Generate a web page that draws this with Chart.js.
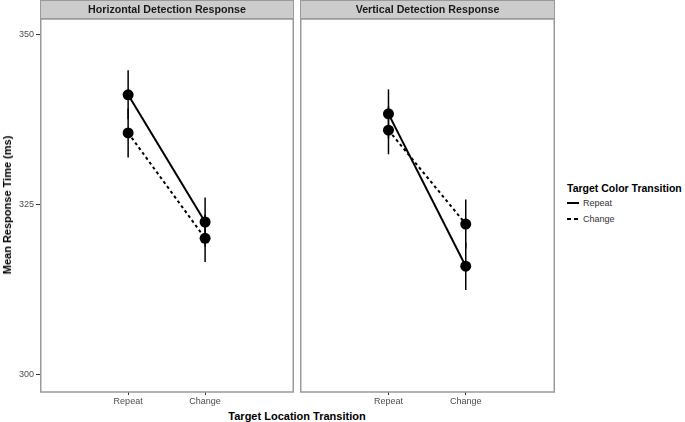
<!DOCTYPE html>
<html>
<head>
<meta charset="utf-8">
<script src="https://cdn.jsdelivr.net/npm/chart.js@4.4.1/dist/chart.umd.min.js"></script>
<style>
  body { margin: 0; background: #fff; font-family: 'Liberation Sans', Arial, sans-serif; }
  #wrap { position: relative; width: 685px; height: 422px; }
  canvas { position: absolute; }
  .lbl { position: absolute; white-space: nowrap; color: #000; }
  .bold { font-weight: bold; }
</style>
</head>
<body>
<div id="wrap">
  <canvas id="c1" width="297" height="410" style="left:0;top:0;width:297px;height:410px"></canvas>
  <canvas id="c2" width="264" height="410" style="left:295px;top:0;width:264px;height:410px"></canvas>

  <div class="lbl bold" id="ytitle" style="left:7px;top:205px;font-size:11px;transform:translate(-50%,-50%) rotate(-90deg)">Mean Response Time (ms)</div>
  <div class="lbl bold" style="left:297px;top:416px;font-size:11px;transform:translate(-50%,-50%)">Target Location Transition</div>

  <div class="lbl bold" style="left:567px;top:188px;font-size:10.5px;transform:translateY(-50%)">Target Color Transition</div>
  <svg style="position:absolute;left:566px;top:196px" width="16" height="30">
    <line x1="1" y1="7" x2="13" y2="7" stroke="#000" stroke-width="2"/>
    <line x1="1" y1="23" x2="13" y2="23" stroke="#000" stroke-width="2" stroke-dasharray="4,3"/>
  </svg>
  <div class="lbl" style="left:583px;top:203px;font-size:9px;color:#333;transform:translateY(-50%)">Repeat</div>
  <div class="lbl" style="left:583px;top:219px;font-size:9px;color:#333;transform:translateY(-50%)">Change</div>
</div>

<script>
// categories and values
const locationLabels = ['Repeat', 'Change'];
const panelTitles = ['Horizontal Detection Response', 'Vertical Detection Response'];
const colorSeries = ['Repeat', 'Change'];

// Horizontal panel
const horizRepeat = [341.2, 322.5];
const horizChange = [335.6, 320.1];
const horizRepeatSE = [3.6, 3.6];
const horizChangeSE = [3.6, 3.5];

// Vertical panel
const vertRepeat = [338.4, 316.0];
const vertChange = [336.0, 322.2];
const vertRepeatSE = [3.6, 3.5];
const vertChangeSE = [3.55, 3.6];

const yTicks = [300, 325, 350];

const BORDER = '#9a9a9a';
const STRIP = '#cccccc';

// error bars + panel frame + strip
const facetPlugin = {
  id: 'facet',
  beforeDraw(chart) {
    const { ctx, chartArea: a } = chart;
    ctx.save();
    ctx.fillStyle = STRIP;
    ctx.fillRect(a.left, 0, a.right - a.left, a.top);
    ctx.strokeStyle = BORDER;
    ctx.lineWidth = 1;
    ctx.strokeRect(a.left + 0.5, 0.5, a.right - a.left - 1, a.top - 1);
    ctx.fillStyle = '#1a1a1a';
    ctx.font = 'bold 10.7px "Liberation Sans", Arial, sans-serif';
    ctx.textAlign = 'center';
    ctx.textBaseline = 'middle';
    ctx.fillText(chart.options.plugins.facet.title, (a.left + a.right) / 2, a.top / 2 + 0.5);
    ctx.restore();
  },
  afterDatasetsDraw(chart) {
    const { ctx, chartArea: a, scales } = chart;
    ctx.save();
    ctx.strokeStyle = '#000';
    ctx.lineWidth = 1.5;
    chart.data.datasets.forEach(ds => {
      ds.data.forEach((p, i) => {
        const x = scales.x.getPixelForValue(p.x);
        const y1 = scales.y.getPixelForValue(p.y - ds.se[i]);
        const y2 = scales.y.getPixelForValue(p.y + ds.se[i]);
        ctx.beginPath();
        ctx.moveTo(x, y1);
        ctx.lineTo(x, y2);
        ctx.stroke();
      });
    });
    ctx.strokeStyle = BORDER;
    ctx.lineWidth = 1.5;
    ctx.strokeRect(a.left + 0.75, a.top, a.right - a.left - 1.5, a.bottom - a.top);
    ctx.restore();
  }
};

function makeData(rep, chg, repSE, chgSE) {
  return {
    datasets: [
      {
        label: colorSeries[0],
        data: rep.map((v, i) => ({ x: i + 1, y: v })),
        se: repSE,
        borderColor: '#000',
        backgroundColor: '#000',
        borderWidth: 2,
        pointRadius: 5.5,
        pointBorderWidth: 0
      },
      {
        label: colorSeries[1],
        data: chg.map((v, i) => ({ x: i + 1, y: v })),
        se: chgSE,
        borderColor: '#000',
        backgroundColor: '#000',
        borderWidth: 2,
        borderDash: [3, 3],
        pointRadius: 5.5,
        pointBorderWidth: 0
      }
    ]
  };
}

function makeOptions(title, yWidth, showYTicks, padding) {
  return {
    responsive: false,
    animation: false,
    layout: { padding: padding, autoPadding: false },
    plugins: {
      legend: { display: false },
      tooltip: { enabled: false },
      facet: { title: title }
    },
    scales: {
      x: {
        type: 'linear',
        min: -0.145,
        max: 3.155,
        afterBuildTicks: s => { s.ticks = locationLabels.map((l, i) => ({ value: i + 1 })); },
        afterFit: s => { s.height = 18; },
        ticks: {
          callback: v => locationLabels[v - 1],
          color: '#4d4d4d',
          font: { family: 'Liberation Sans', size: 9 },
          padding: 1,
          maxRotation: 0
        },
        grid: { drawOnChartArea: false, tickLength: 3, tickColor: '#333', lineWidth: 1 },
        border: { display: false }
      },
      y: {
        min: 297.5,
        max: 352.35,
        afterBuildTicks: s => { s.ticks = yTicks.map(v => ({ value: v })); },
        afterFit: s => { s.width = yWidth; },
        ticks: {
          display: showYTicks,
          color: '#4d4d4d',
          font: { family: 'Liberation Sans', size: 9 },
          padding: 2
        },
        grid: { display: showYTicks, drawOnChartArea: false, tickLength: 4, tickColor: '#333', lineWidth: 1 },
        border: { display: false }
      }
    }
  };
}

Chart.register(facetPlugin);

new Chart(document.getElementById('c1'), {
  type: 'line',
  data: makeData(horizRepeat, horizChange, horizRepeatSE, horizChangeSE),
  options: makeOptions(panelTitles[0], 40, true, { top: 19, right: 3, left: 0, bottom: 0 })
});

new Chart(document.getElementById('c2'), {
  type: 'line',
  data: makeData(vertRepeat, vertChange, vertRepeatSE, vertChangeSE),
  options: makeOptions(panelTitles[1], 5, false, { top: 19, right: 4, left: 0, bottom: 0 })
});
</script>
</body>
</html>
